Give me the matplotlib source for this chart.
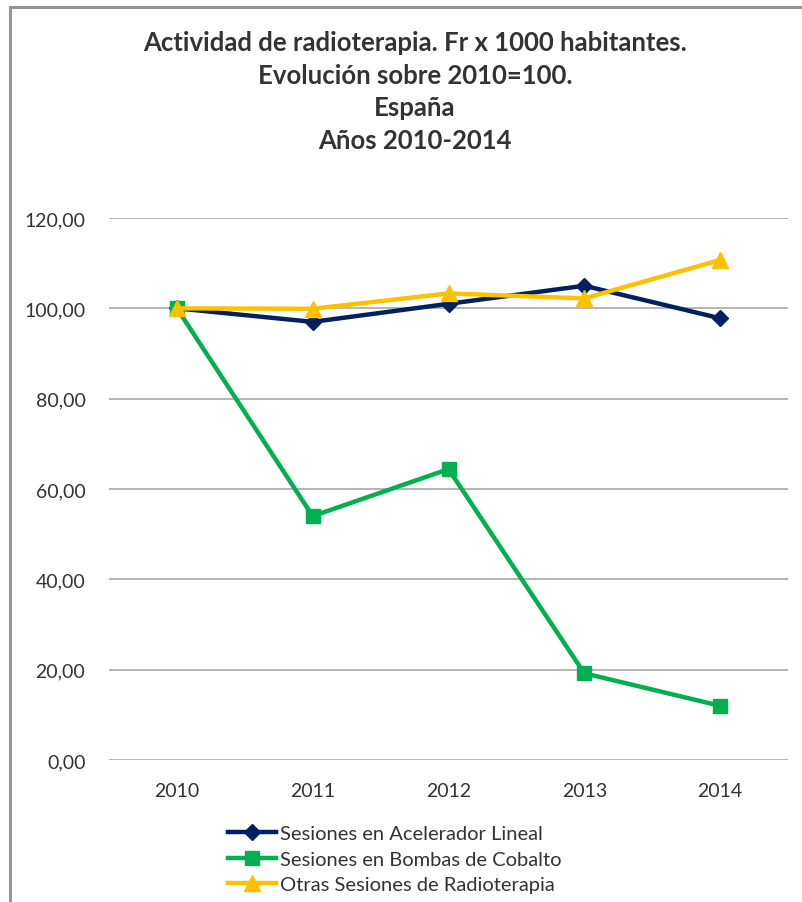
import matplotlib
matplotlib.use('Agg')
import matplotlib.pyplot as plt
from matplotlib.patches import Rectangle

# Datos (2010 = 100)
years = ['2010', '2011', '2012', '2013', '2014']
acelerador = [100.0, 97.0, 101.0, 105.0, 97.8]
cobalto = [100.0, 54.0, 64.4, 19.2, 12.0]
otras = [100.0, 99.9, 103.3, 102.2, 110.7]
yticks = [0, 20, 40, 60, 80, 100, 120]

series_names = ['Sesiones en Acelerador Lineal',
                'Sesiones en Bombas de Cobalto',
                'Otras Sesiones de Radioterapia']
title_text = ('Actividad de radioterapia. Fr x 1000 habitantes.\n'
              'Evolución sobre 2010=100.\nEspaña\nAños 2010-2014')

plt.rcParams['font.family'] = ['Lato', 'DejaVu Sans']

W, H = 802, 903
fig = plt.figure(figsize=(W / 100, H / 100), dpi=100)

# marco exterior del gráfico
fig.patches.append(Rectangle((9.5 / W, -0.05), 1.2, 1 - 7.5 / H + 0.05,
                             transform=fig.transFigure, fill=False,
                             edgecolor='#969696', linewidth=2.2))

ax = fig.add_axes([109 / W, 1 - 761 / H, 679 / W, 542 / H])

x = list(range(len(years)))
ax.plot(x, acelerador, color='#002060', linewidth=3.2, marker='D',
        markersize=8.5, label=series_names[0], zorder=3)
ax.plot(x, cobalto, color='#00B050', linewidth=3.2, marker='s',
        markersize=10, label=series_names[1], zorder=3)
ax.plot(x, otras, color='#FFC000', linewidth=3.2, marker='^',
        markersize=11, label=series_names[2], zorder=4)

ax.set_xlim(-0.5, len(years) - 0.5)
ax.set_ylim(0, 120)
ax.set_yticks(yticks)
ax.set_yticklabels([f'{v:.2f}'.replace('.', ',') for v in yticks])
ax.set_xticks(x)
ax.set_xticklabels(years)
ax.grid(axis='y', color='#A0A0A0', linewidth=1.1)
ax.set_axisbelow(True)
for s in ax.spines.values():
    s.set_visible(False)
ax.tick_params(length=0, labelsize=14, colors='#333333')
ax.tick_params(axis='y', pad=17)
ax.tick_params(axis='x', pad=16)

fig.text(415 / W, 1 - 31 / H, title_text, ha='center', va='top',
         fontsize=18.5, fontweight='bold', color='#333333', linespacing=1.43)

leg = fig.legend(loc='upper left', bbox_to_anchor=(218 / W, 1 - 816 / H),
                 frameon=False, fontsize=14.5, handlelength=2.4,
                 handletextpad=0.2, labelspacing=0.42, borderpad=0)
for t in leg.get_texts():
    t.set_color('#333333')

fig.savefig('out.png', dpi=100)
